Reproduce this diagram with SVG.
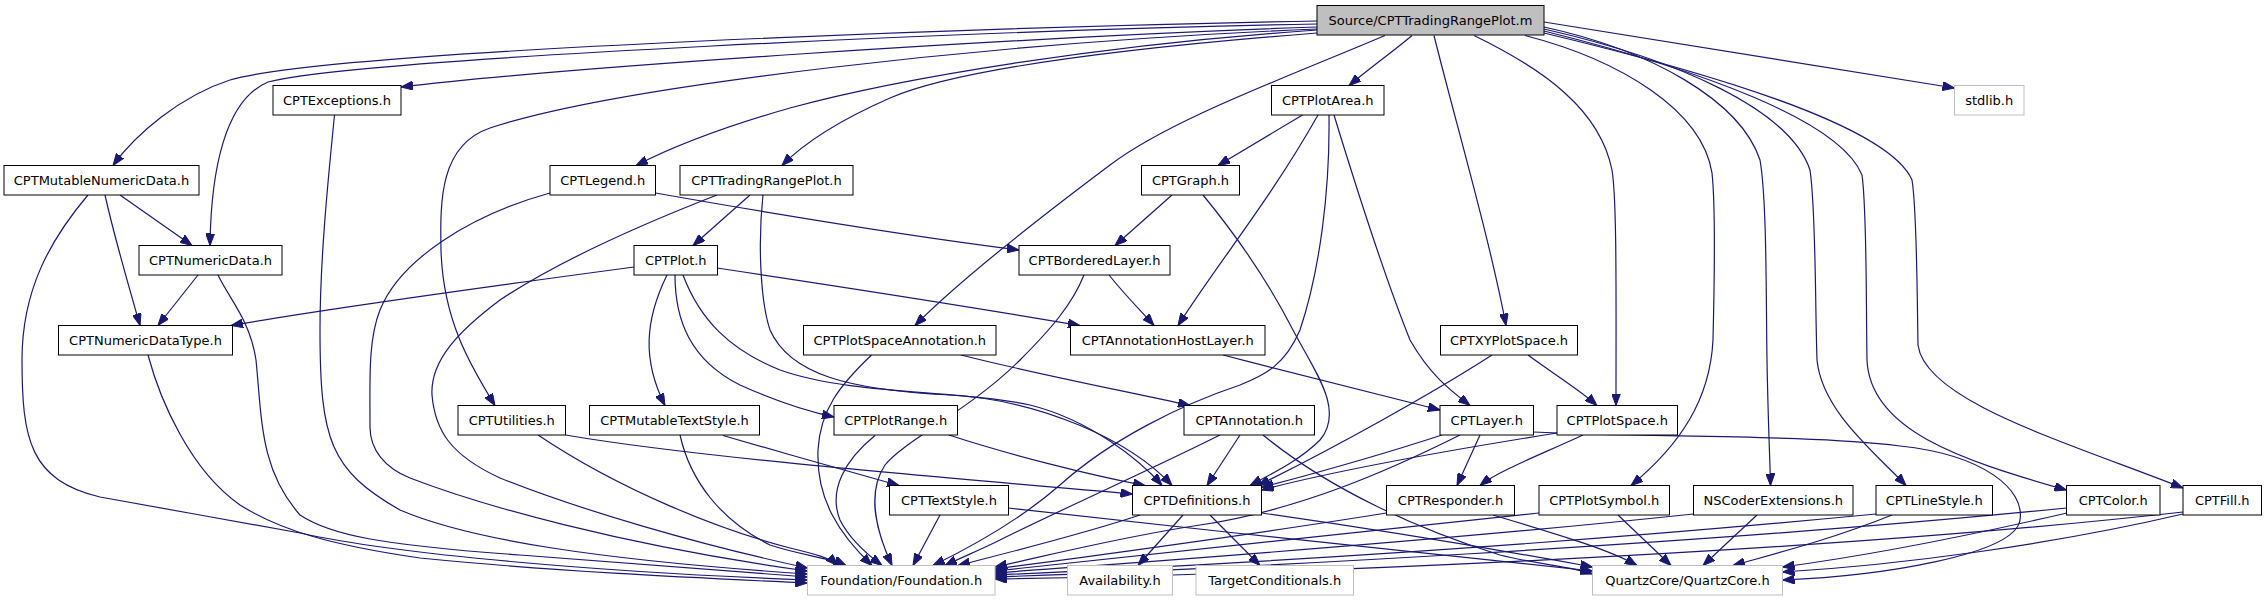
<svg xmlns="http://www.w3.org/2000/svg" width="2268" height="603" viewBox="0 0 2268 603">
<style>
.n rect{fill:#fff;stroke:#000;stroke-width:1}
.leaf rect{stroke:#bfbfbf}
.root rect{fill:#bfbfbf}
text{font-family:"DejaVu Sans","Liberation Sans",sans-serif;font-size:13px;text-anchor:middle;fill:#000}
.e path{fill:none;stroke:#191970;stroke-width:1.2;marker-end:url(#a)}
</style>
<defs>
<marker id="a" viewBox="0 0 12 9" refX="12" refY="4.5" markerWidth="12" markerHeight="9" markerUnits="userSpaceOnUse" orient="auto"><path d="M0,0 L12,4.5 L0,9 z" fill="#191970" stroke="#191970" stroke-width="1"/></marker>
</defs>
<rect width="2268" height="603" fill="#fff"/>
<g id="edges" class="e">
<path d="M1317,21 C1000,27 330,50 230,80 C180,96 135,135 113,165.5"/>
<path d="M1317,24 C1000,30 360,58 268,82 C225,100 211,170 210,245.5"/>
<path d="M1317,27 C1000,38 560,68 401,87"/>
<path d="M1317,29 C1000,42 620,85 490,128 C440,145 440,200 441,250 C443,320 470,365 495,405.5"/>
<path d="M1317,30 C1100,45 900,78 790,108 C720,128 670,148 636,165.5"/>
<path d="M1317,33 C1100,50 950,72 890,98 C840,120 805,142 782,165.5"/>
<path d="M1385,35.5 C1280,80 1170,120 1110,165 C1030,225 955,285 915,325.5"/>
<path d="M1412,35.5 C1395,50 1370,68 1349,85.5"/>
<path d="M1434,35.5 C1455,120 1490,240 1506,325.5"/>
<path d="M1474,35.5 C1545,70 1600,110 1612,170 C1617,200 1616,300 1616,405.5"/>
<path d="M1525,35.5 C1620,60 1702,110 1712,173 C1716,210 1714,300 1713,340 C1710,400 1680,445 1631,485.5"/>
<path d="M1544,27 C1650,50 1740,100 1760,160 C1767,200 1766,300 1767,360 C1768,420 1770,460 1770.5,485.5"/>
<path d="M1544,29 C1680,60 1790,110 1810,170 C1816,210 1815,300 1817,360 C1822,410 1872,450 1906,485.5"/>
<path d="M1544,31 C1700,70 1840,120 1862,175 C1867,210 1866,300 1867,360 C1870,430 1960,460 2066.5,490"/>
<path d="M1544,33 C1740,80 1890,130 1912,180 C1917,210 1917,290 1918,345 C1925,400 2060,440 2183,488"/>
<path d="M1544,22 C1650,38 1800,62 1954.5,88"/>
<path d="M120,195 L192,245.5"/>
<path d="M105,195 C115,240 130,290 140,325.5"/>
<path d="M88,195 C50,240 22,290 22,360 C22,440 30,480 100,497 C180,512 220,518 300,533 C400,555 600,572 807.5,580"/>
<path d="M198,275 L158,325.5"/>
<path d="M218,275 C230,300 250,320 256,360 C262,420 260,470 300,515 C330,535 380,545 520,555 C650,565 750,573 807.5,577"/>
<path d="M334.5,115 C328,180 320,260 320,330 C320,440 330,470 400,510 C470,540 600,560 807.5,574"/>
<path d="M550,193 C470,215 400,260 380,310 C368,340 370,380 370,427 C370,450 385,468 410,478 C480,505 620,545 807.5,571"/>
<path d="M717,195 C640,225 560,260 500,300 C460,330 430,360 432,395 C435,430 450,455 500,478 C580,510 700,545 807.5,568"/>
<path d="M538,435 C620,490 720,530 790,548 C815,554 830,558 838,565.5"/>
<path d="M565.5,435 C700,458 950,478 1132.5,494"/>
<path d="M680,435 C690,480 720,520 770,545 C800,555 830,558 846,565.5"/>
<path d="M723,435.5 C780,452 850,472 899,485.5"/>
<path d="M634,267 C500,285 320,310 231,325.5"/>
<path d="M717,268 C830,285 960,305 1080,325.5"/>
<path d="M667,275 C645,320 642,360 665,405.5"/>
<path d="M675,275 C675,320 690,360 740,385 C780,403 810,412 834,417"/>
<path d="M683,275 C700,320 730,350 780,370 C850,395 960,390 1030,405 C1090,420 1140,460 1162,485.5"/>
<path d="M750,195 L693,245.5"/>
<path d="M763,195 C758,240 760,300 770,330 C790,375 850,390 950,395 C1040,400 1130,440 1172,485.5"/>
<path d="M655.5,193 C780,215 900,235 1019,250"/>
<path d="M961,355 C1040,375 1130,392 1190,405.5"/>
<path d="M871.5,355 C840,385 820,410 818,450 C816,500 840,535 872,565.5"/>
<path d="M949,435 C1010,455 1090,475 1145,485.5"/>
<path d="M875,435.5 C845,460 828,490 840,520 C850,540 868,555 882,565.5"/>
<path d="M1109,275 C1125,295 1140,310 1154,325.5"/>
<path d="M1084,275 C1072,305 1050,330 1020,360 C970,410 905,440 885,465 C865,495 878,535 892,565.5"/>
<path d="M1172,195 L1115,245.5"/>
<path d="M1203,195 C1240,240 1270,285 1293,330 C1315,372 1345,410 1320,440 C1300,460 1275,472 1250,485.5"/>
<path d="M1302.5,115 L1218,165.5"/>
<path d="M1318,115 C1270,200 1220,260 1178,325.5"/>
<path d="M1329,115 C1330,190 1320,270 1300,330 C1285,365 1265,375 1240,385 C1180,405 1110,440 1060,485 C1020,520 975,545 933,565.5"/>
<path d="M1334,115 C1360,200 1390,290 1410,340 C1430,375 1450,390 1470,405.5"/>
<path d="M1223,355 C1300,375 1380,395 1440,410"/>
<path d="M1528,355 C1555,375 1580,390 1597,405.5"/>
<path d="M1492,355 C1430,395 1330,450 1258,485.5"/>
<path d="M1240,435 L1207,485.5"/>
<path d="M1220,435 C1150,470 1060,510 1000,540 C980,550 960,558 945,565.5"/>
<path d="M1263,435 C1330,490 1420,530 1500,555 C1540,565 1570,566 1592.5,574"/>
<path d="M1442,435 C1390,452 1320,472 1261.5,487.5"/>
<path d="M1480,435 L1457,485.5"/>
<path d="M1460,435 C1390,470 1300,510 1200,525 C1120,537 1050,555 995,567"/>
<path d="M1533.5,432 C1650,438 1800,434 1900,446 C1985,455 2025,490 2020,520 C2015,555 1880,576 1782.5,580"/>
<path d="M1140,515 C1080,535 1010,552 958,565.5"/>
<path d="M1183,515 L1138,565.5"/>
<path d="M1210,515 L1260,565.5"/>
<path d="M1261.5,513 C1380,530 1500,550 1592.5,567"/>
<path d="M1386.5,513 C1250,535 1100,555 995,569"/>
<path d="M1493,515 C1560,535 1610,550 1637,565.5"/>
<path d="M1557,433 C1450,450 1330,472 1261.5,490"/>
<path d="M1583,435 C1540,455 1500,470 1480,485.5"/>
<path d="M1539,513 C1300,540 1100,560 995,571"/>
<path d="M1618,515 L1671,565.5"/>
<path d="M1693.5,514 C1400,545 1100,565 995,573"/>
<path d="M1757,515 L1703,565.5"/>
<path d="M1876,514 C1500,550 1150,568 995,575"/>
<path d="M1892,515 C1830,540 1770,555 1733,565.5"/>
<path d="M2066.5,508 C1700,545 1200,570 995,577"/>
<path d="M2067,513 C1950,540 1850,558 1782.5,567"/>
<path d="M2183,512 C1800,555 1250,575 995,579"/>
<path d="M2183,514 C2050,545 1900,565 1782.5,572"/>
<path d="M940,515 L913,565.5"/>
<path d="M1008.5,508 C1200,530 1420,552 1592.5,571"/>
<path d="M148,355 C160,400 190,470 240,505 C280,530 330,545 420,558 C560,572 700,578 807.5,583"/>
</g>
<g id="root" class="n root"><rect x="1317" y="5.5" width="227" height="29.5"/><text x="1430.5" y="25">Source/CPTTradingRangePlot.m</text></g>
<g id="n_exceptions" class="n"><rect x="273" y="85.5" width="128" height="29.5"/><text x="337" y="105">CPTExceptions.h</text></g>
<g id="n_plotarea" class="n"><rect x="1271.5" y="85.5" width="112.5" height="29.5"/><text x="1327.75" y="105">CPTPlotArea.h</text></g>
<g id="n_stdlib" class="n leaf"><rect x="1954.5" y="85.5" width="69.5" height="29.5"/><text x="1989.25" y="105">stdlib.h</text></g>
<g id="n_mutnum" class="n"><rect x="4" y="165.5" width="195" height="29.5"/><text x="101.5" y="185">CPTMutableNumericData.h</text></g>
<g id="n_legend" class="n"><rect x="550" y="165.5" width="105.5" height="29.5"/><text x="602.75" y="185">CPTLegend.h</text></g>
<g id="n_trp" class="n"><rect x="680" y="165.5" width="173" height="29.5"/><text x="766.5" y="185">CPTTradingRangePlot.h</text></g>
<g id="n_graph" class="n"><rect x="1141.5" y="165.5" width="98" height="29.5"/><text x="1190.5" y="185">CPTGraph.h</text></g>
<g id="n_numdata" class="n"><rect x="139" y="245.5" width="143" height="29.5"/><text x="210.5" y="265">CPTNumericData.h</text></g>
<g id="n_plot" class="n"><rect x="634" y="245.5" width="83.5" height="29.5"/><text x="675.75" y="265">CPTPlot.h</text></g>
<g id="n_bordered" class="n"><rect x="1019" y="245.5" width="151" height="29.5"/><text x="1094.5" y="265">CPTBorderedLayer.h</text></g>
<g id="n_numdt" class="n"><rect x="58.5" y="325.5" width="174" height="29.5"/><text x="145.5" y="345">CPTNumericDataType.h</text></g>
<g id="n_psa" class="n"><rect x="803.5" y="325.5" width="192.5" height="29.5"/><text x="899.75" y="345">CPTPlotSpaceAnnotation.h</text></g>
<g id="n_ahl" class="n"><rect x="1070.5" y="325.5" width="194.5" height="29.5"/><text x="1167.75" y="345">CPTAnnotationHostLayer.h</text></g>
<g id="n_xyps" class="n"><rect x="1440.5" y="325.5" width="137" height="29.5"/><text x="1509" y="345">CPTXYPlotSpace.h</text></g>
<g id="n_util" class="n"><rect x="458" y="405.5" width="107.5" height="29.5"/><text x="511.75" y="425">CPTUtilities.h</text></g>
<g id="n_mts" class="n"><rect x="589.5" y="405.5" width="170" height="29.5"/><text x="674.5" y="425">CPTMutableTextStyle.h</text></g>
<g id="n_plotrange" class="n"><rect x="834" y="405.5" width="123.5" height="29.5"/><text x="895.75" y="425">CPTPlotRange.h</text></g>
<g id="n_annot" class="n"><rect x="1184" y="405.5" width="130.5" height="29.5"/><text x="1249.25" y="425">CPTAnnotation.h</text></g>
<g id="n_layer" class="n"><rect x="1440" y="405.5" width="93.5" height="29.5"/><text x="1486.75" y="425">CPTLayer.h</text></g>
<g id="n_plotspace" class="n"><rect x="1557" y="405.5" width="120.5" height="29.5"/><text x="1617.25" y="425">CPTPlotSpace.h</text></g>
<g id="n_textstyle" class="n"><rect x="889.5" y="485.5" width="119" height="29.5"/><text x="949" y="505">CPTTextStyle.h</text></g>
<g id="n_defs" class="n"><rect x="1132.5" y="485.5" width="129" height="29.5"/><text x="1197" y="505">CPTDefinitions.h</text></g>
<g id="n_responder" class="n"><rect x="1386.5" y="485.5" width="128" height="29.5"/><text x="1450.5" y="505">CPTResponder.h</text></g>
<g id="n_plotsymbol" class="n"><rect x="1539" y="485.5" width="130.5" height="29.5"/><text x="1604.25" y="505">CPTPlotSymbol.h</text></g>
<g id="n_nscoder" class="n"><rect x="1693.5" y="485.5" width="159.5" height="29.5"/><text x="1773.25" y="505">NSCoderExtensions.h</text></g>
<g id="n_linestyle" class="n"><rect x="1876" y="485.5" width="116.5" height="29.5"/><text x="1934.25" y="505">CPTLineStyle.h</text></g>
<g id="n_color" class="n"><rect x="2066.5" y="485.5" width="93.5" height="29.5"/><text x="2113.25" y="505">CPTColor.h</text></g>
<g id="n_fill" class="n"><rect x="2183" y="485.5" width="78.5" height="29.5"/><text x="2222.25" y="505">CPTFill.h</text></g>
<g id="n_foundation" class="n leaf"><rect x="807.5" y="565.5" width="187.5" height="29.5"/><text x="901.25" y="585">Foundation/Foundation.h</text></g>
<g id="n_avail" class="n leaf"><rect x="1067.5" y="565.5" width="105" height="29.5"/><text x="1120" y="585">Availability.h</text></g>
<g id="n_target" class="n leaf"><rect x="1196" y="565.5" width="157.5" height="29.5"/><text x="1274.75" y="585">TargetConditionals.h</text></g>
<g id="n_qc" class="n leaf"><rect x="1592.5" y="565.5" width="190" height="29.5"/><text x="1687.5" y="585">QuartzCore/QuartzCore.h</text></g>
</svg>
